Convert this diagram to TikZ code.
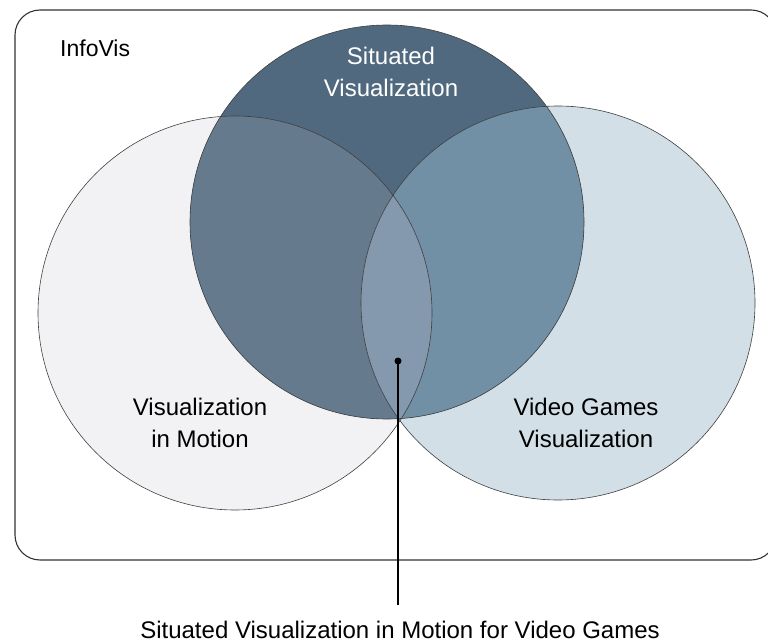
\documentclass[tikz,border=0pt]{standalone}
\usepackage{fontspec}
\setmainfont{Liberation Sans}
\definecolor{motfill}{HTML}{F2F2F4}
\definecolor{vgfill}{HTML}{D2DFE7}
\definecolor{sitfill}{HTML}{50697F}
\definecolor{sitmotfill}{HTML}{667A8E}
\definecolor{sitvgfill}{HTML}{7290A5}
\definecolor{allfill}{HTML}{8499AD}
\begin{document}
\begin{tikzpicture}[x=1pt,y=-1pt,
    venn/.style={draw=black!75,line width=0.6pt},
    vlabel/.style={font=\fontsize{24}{32}\selectfont,align=center,inner sep=0pt}]
  \useasboundingbox (0,0) rectangle (768,644);

  % InfoVis frame
  \draw [line width=1.1pt,draw=black!80,rounded corners=25pt] (15,10) rectangle (776,560);
  \node [vlabel,font=\fontsize{23}{32}\selectfont,anchor=base west] (infovis) at (60,57) {InfoVis};

  % circle centres
  \coordinate (csit) at (387,222);
  \coordinate (cmot) at (235,313);
  \coordinate (cvg) at (558,303);
  \def\rad{197}

  % fills
  \fill [motfill] (cmot) circle (\rad);
  \fill [vgfill] (cvg) circle (\rad);
  \fill [sitfill] (csit) circle (\rad);
  \begin{scope}
    \clip (csit) circle (\rad);
    \fill [sitmotfill] (cmot) circle (\rad);
    \fill [sitvgfill] (cvg) circle (\rad);
    \clip (cmot) circle (\rad);
    \fill [allfill] (cvg) circle (\rad);
  \end{scope}

  % outlines
  \draw [venn] (cmot) circle (\rad);
  \draw [venn] (cvg) circle (\rad);
  \draw [venn] (csit) circle (\rad);

  % labels
  \node [vlabel,text=white] (sitviz) at (391,72) {Situated\\Visualization};
  \node [vlabel] (vizmot) at (200,423) {Visualization\\in Motion};
  \node [vlabel] (vgviz) at (586,423) {Video Games\\Visualization};

  % triple intersection callout
  \node [circle,fill=black,inner sep=0pt,minimum size=7pt] (dot) at (398,361) {};
  \node [vlabel,anchor=base] (caption) at (400,638) {Situated Visualization in Motion for Video Games};
  \draw [line width=1.3pt,shorten >=15pt] (dot.center) -- (dot.center |- caption.north);
\end{tikzpicture}
\end{document}
